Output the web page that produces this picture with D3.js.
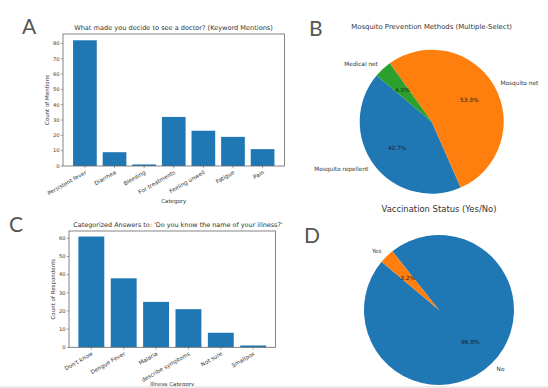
<!DOCTYPE html>
<html>
<head>
<meta charset="utf-8">
<script src="https://cdn.jsdelivr.net/npm/d3@7"></script>
<style>
  html, body { margin: 0; padding: 0; background: #fff; }
  svg { display: block; }
  text { font-family: 'DejaVu Sans', sans-serif; fill: #333; }
  .tick-label { fill: #3a3a3a; }
  .panel-letter { font-family: 'Lato', 'Liberation Sans', sans-serif; fill: #555; }
</style>
</head>
<body>
<svg id="chart" width="548" height="388"></svg>
<script>
// A: keyword mentions
var symptomCategories = ['Persistent fever', 'Diarrhea', 'Bleeding', 'For treatments', 'Feeling unwell', 'Fatigue', 'Pain'];
var symptomCounts = [82, 9, 1, 32, 23, 19, 11];
var symptomTicks = [0, 10, 20, 30, 40, 50, 60, 70, 80];

// B: mosquito prevention (percent)
var preventionLabels = ['Mosquito repellent', 'Mosquito net', 'Medical net'];
var preventionShares = [42.7, 53.3, 4.0];

// C: illness name answers
var illnessCategories = ["Don't know", 'Dengue Fever', 'Malaria', 'describe symptoms', 'Not sure', 'Smallpox'];
var illnessCounts = [61, 38, 25, 21, 8, 1];
var illnessTicks = [0, 10, 20, 30, 40, 50, 60];

// D: vaccination (percent)
var vaccinationLabels = ['No', 'Yes'];
var vaccinationShares = [96.8, 3.2];

var colors = ['#1f77b4', '#ff7f0e', '#2ca02c'];

var svg = d3.select('#chart');

// scale the font so the text is as wide as in the picture
function fitSize(sel, width) {
  var base = parseFloat(sel.style('font-size'));
  var len = sel.node().getComputedTextLength();
  if (len > 0) {
    sel.style('font-size', (base * width / len) + 'px');
  }
}

function drawBars(cfg) {
  var n = cfg.categories.length;
  var pad = 0.05 * (n - 0.2);
  var x = d3.scaleBand()
    .domain(cfg.categories)
    .range([cfg.left, cfg.right])
    .paddingInner(0.2)
    .paddingOuter(pad);
  var y = d3.scaleLinear()
    .domain([0, d3.max(cfg.values) * 1.05])
    .range([cfg.bottom, cfg.top]);

  var g = svg.append('g');

  g.selectAll('.bar')
    .data(cfg.values)
    .enter()
    .append('rect')
    .attr('class', 'bar')
    .attr('x', function(d, i) { return x(cfg.categories[i]); })
    .attr('width', x.bandwidth())
    .attr('y', function(d) { return y(d); })
    .attr('height', function(d) { return cfg.bottom - y(d); })
    .style('fill', colors[0]);

  // frame
  g.append('rect')
    .attr('x', cfg.left)
    .attr('y', cfg.top)
    .attr('width', cfg.right - cfg.left)
    .attr('height', cfg.bottom - cfg.top)
    .style('fill', 'none')
    .style('stroke', '#666')
    .style('stroke-width', 0.8);

  // y ticks
  var yt = g.selectAll('.ytick')
    .data(cfg.ticks)
    .enter()
    .append('g')
    .attr('class', 'ytick')
    .attr('transform', function(d) { return 'translate(0,' + y(d) + ')'; });
  yt.append('line')
    .attr('x1', cfg.left - 2.2)
    .attr('x2', cfg.left)
    .style('stroke', '#666')
    .style('stroke-width', 0.6);
  yt.append('text')
    .attr('class', 'tick-label')
    .attr('x', cfg.left - 3.5)
    .attr('dy', '0.35em')
    .style('font-size', '5.2px')
    .style('text-anchor', 'end')
    .text(function(d) { return d; });

  // x ticks
  var xt = g.selectAll('.xtick')
    .data(cfg.categories)
    .enter()
    .append('g')
    .attr('class', 'xtick')
    .attr('transform', function(d) {
      return 'translate(' + (x(d) + x.bandwidth() / 2) + ',' + cfg.bottom + ')';
    });
  xt.append('line')
    .attr('y2', 2.2)
    .style('stroke', '#666')
    .style('stroke-width', 0.6);
  xt.append('text')
    .attr('class', 'tick-label')
    .attr('transform', 'translate(2,7.5) rotate(-30)')
    .style('font-size', '5.6px')
    .style('text-anchor', 'end')
    .text(function(d) { return d; });

  // labels
  g.append('text')
    .attr('x', (cfg.left + cfg.right) / 2)
    .attr('y', cfg.xLabelY)
    .style('font-size', '5.5px')
    .style('text-anchor', 'middle')
    .text(cfg.xLabel);
  g.append('text')
    .attr('transform', 'translate(' + cfg.yLabelX + ',' + ((cfg.top + cfg.bottom) / 2) + ') rotate(-90)')
    .style('font-size', '5.5px')
    .style('text-anchor', 'middle')
    .text(cfg.yLabel);
  g.append('text')
    .attr('x', cfg.titleX)
    .attr('y', cfg.top - 4)
    .style('font-size', '6.5px')
    .style('text-anchor', 'middle')
    .text(cfg.title)
    .call(fitSize, cfg.titleWidth);
}

function drawPie(cfg) {
  // matplotlib startangle=140, counterclockwise
  var start = (90 - 140) * Math.PI / 180;
  var pie = d3.pie()
    .sort(null)
    .startAngle(start)
    .endAngle(start - 2 * Math.PI);
  var arcs = pie(cfg.values);
  var arc = d3.arc().innerRadius(0).outerRadius(cfg.r);

  var g = svg.append('g')
    .attr('transform', 'translate(' + cfg.cx + ',' + cfg.cy + ')');

  g.selectAll('.slice')
    .data(arcs)
    .enter()
    .append('path')
    .attr('class', 'slice')
    .attr('d', arc)
    .style('fill', function(d, i) { return colors[cfg.colorIdx[i]]; });

  function pos(d, k) {
    var a = (d.startAngle + d.endAngle) / 2;
    return [Math.sin(a) * cfg.r * k, -Math.cos(a) * cfg.r * k];
  }

  g.selectAll('.pct')
    .data(arcs)
    .enter()
    .append('text')
    .attr('class', 'pct')
    .attr('x', function(d) { return pos(d, 0.6)[0]; })
    .attr('y', function(d) { return pos(d, 0.6)[1]; })
    .attr('dy', '0.35em')
    .style('font-size', cfg.fontSize + 'px')
    .style('text-anchor', 'middle')
    .style('fill', '#222')
    .text(function(d) { return d.value.toFixed(1) + '%'; });

  g.selectAll('.lbl')
    .data(arcs)
    .enter()
    .append('text')
    .attr('class', 'lbl')
    .attr('x', function(d) { return pos(d, 1.1)[0]; })
    .attr('y', function(d) { return pos(d, 1.1)[1]; })
    .attr('dy', '0.35em')
    .style('font-size', cfg.fontSize + 'px')
    .style('text-anchor', function(d) { return pos(d, 1)[0] > 0 ? 'start' : 'end'; })
    .text(function(d, i) { return cfg.labels[i]; });

  svg.append('text')
    .attr('x', cfg.titleX)
    .attr('y', cfg.titleY)
    .style('font-size', cfg.titleSize + 'px')
    .style('text-anchor', 'middle')
    .text(cfg.title)
    .call(fitSize, cfg.titleWidth);
}

drawBars({
  categories: symptomCategories,
  values: symptomCounts,
  ticks: symptomTicks,
  left: 63, right: 284.5, top: 34, bottom: 166,
  title: 'What made you decide to see a doctor? (Keyword Mentions)',
  titleX: 173.5, titleWidth: 199,
  xLabel: 'Category', xLabelY: 202.5,
  yLabel: 'Count of Mentions', yLabelX: 49
});

drawBars({
  categories: illnessCategories,
  values: illnessCounts,
  ticks: illnessTicks,
  left: 69, right: 275.5, top: 231, bottom: 347.3,
  title: "Categorized Answers to: 'Do you know the name of your illness?'",
  titleX: 178, titleWidth: 210,
  xLabel: 'Illness Category', xLabelY: 386,
  yLabel: 'Count of Respondents', yLabelX: 54.5
});

drawPie({
  values: preventionShares,
  labels: preventionLabels,
  colorIdx: [0, 1, 2],
  cx: 431.7, cy: 121.7, r: 72,
  fontSize: 5.8,
  title: 'Mosquito Prevention Methods (Multiple-Select)',
  titleX: 431.7, titleY: 28.5, titleSize: 6.5, titleWidth: 161
});

drawPie({
  values: vaccinationShares,
  labels: vaccinationLabels,
  colorIdx: [0, 1],
  cx: 439, cy: 310, r: 75,
  fontSize: 5.8,
  title: 'Vaccination Status (Yes/No)',
  titleX: 439, titleY: 212, titleSize: 8.3, titleWidth: 115
});

// panel letters
var letters = [
  {t: 'A', x: 22, y: 34},
  {t: 'B', x: 309, y: 36},
  {t: 'C', x: 9, y: 232},
  {t: 'D', x: 304, y: 243}
];
svg.selectAll('.panel-letter')
  .data(letters)
  .enter()
  .append('text')
  .attr('class', 'panel-letter')
  .attr('x', function(d) { return d.x; })
  .attr('y', function(d) { return d.y; })
  .style('font-size', '21px')
  .text(function(d) { return d.t; });

// faint strip at the bottom edge
svg.append('rect')
  .attr('x', 0)
  .attr('y', 386)
  .attr('width', 548)
  .attr('height', 2)
  .style('fill', '#ebebeb');
</script>
</body>
</html>
